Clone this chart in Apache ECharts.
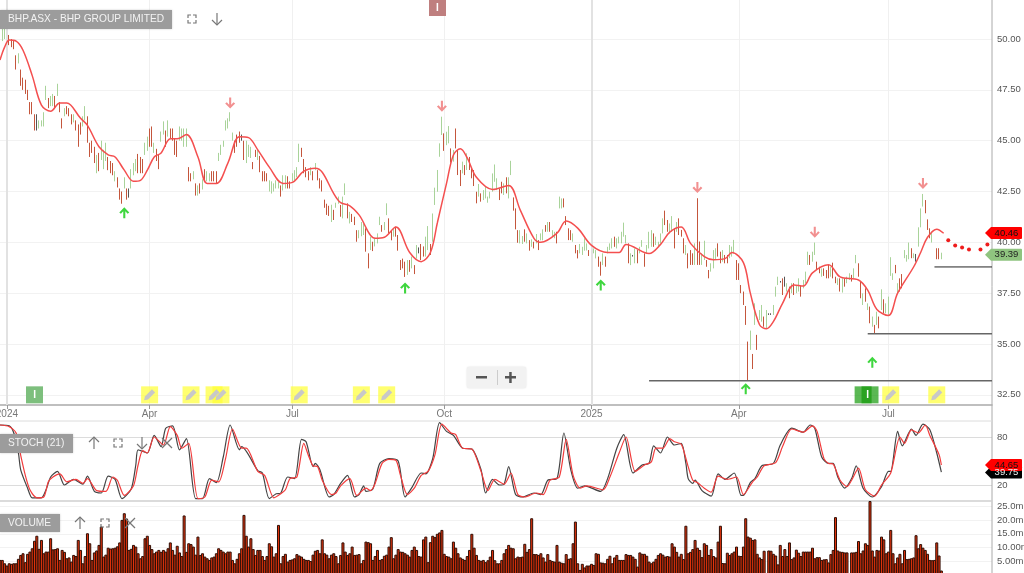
<!DOCTYPE html>
<html>
<head>
<meta charset="utf-8">
<title>BHP.ASX</title>
<style>html,body{margin:0;padding:0;background:#fff}#chart{width:1024px;height:573px}</style>
<script src="https://cdn.jsdelivr.net/npm/echarts@6/dist/echarts.min.js"></script>
</head>
<body>
<div id="chart"></div>
<script>
// 价格K线 (每根: 低/高/方向 1涨 -1跌 0平)
const barLow = [
  49.9,49.9,50.0,49.9,49.7,49.6,49.5,48.5,48.8,47.7,
  47.5,47.3,47.0,46.3,46.3,45.5,45.5,45.6,45.7,45.7,
  47.0,46.6,46.7,46.7,46.6,47.2,46.4,45.6,46.2,46.3,
  46.2,45.8,45.9,45.5,44.7,45.3,45.7,46.0,44.9,44.2,
  44.4,43.9,43.4,43.5,44.05,43.6,44.0,43.55,43.4,43.3,
  43.0,42.7,42.1,41.9,42.65,42.1,42.2,42.65,43.3,43.5,
  43.4,43.4,43.4,44.3,44.5,44.7,44.7,44.4,44.0,43.6,
  44.95,45.3,44.7,45.2,45.1,45.0,44.3,44.2,45.0,45.0,
  44.7,44.7,43.0,43.0,43.1,42.3,42.3,42.4,42.6,43.0,
  43.0,43.0,43.0,43.0,42.9,44.0,44.3,44.7,45.5,45.6,
  45.95,45.0,44.4,44.7,44.9,45.0,44.05,43.9,44.2,44.15,
  43.6,44.2,44.05,43.45,43.0,43.0,43.0,42.5,42.4,42.5,
  42.65,42.65,42.25,42.55,42.65,42.65,42.65,43.0,43.05,43.2,
  43.95,44.2,43.4,43.2,43.05,43.3,43.05,43.55,43.05,42.65,
  42.5,41.7,41.35,41.3,41.0,41.1,41.7,41.9,41.26,41.18,
  42.33,41.18,40.93,41.0,40.85,40.03,40.2,40.3,40.36,39.54,
  38.72,39.62,39.57,39.8,39.95,40.85,40.52,40.6,41.34,40.44,
  40.1,40.28,40.28,39.59,38.64,38.72,38.3,38.4,38.55,38.72,
  38.44,39.2,39.46,39.13,39.3,39.3,39.62,39.38,40.03,41.84,
  42.49,44.21,45.28,44.5,44.78,44.87,43.92,43.97,44.62,43.31,
  42.77,43.39,43.31,43.56,43.56,43.15,42.77,41.92,42.25,42.0,
  42.08,42.16,41.95,42.16,42.49,42.98,42.57,42.08,42.41,42.33,
  42.41,42.16,43.31,41.56,40.64,39.98,39.95,39.92,40.03,39.95,
  39.59,39.78,39.7,39.95,39.62,40.1,40.1,40.52,40.52,40.52,
  40.28,40.2,39.95,41.67,41.67,41.72,40.85,40.11,40.11,40.03,
  39.46,39.21,39.46,39.38,39.59,39.6,39.33,39.46,39.46,39.21,
  38.8,38.36,38.88,38.8,39.46,39.62,39.7,39.78,39.7,39.95,
  39.95,40.28,39.95,38.97,38.88,39.3,38.97,38.97,39.46,39.78,
  38.8,39.46,39.7,39.78,39.78,39.87,39.78,39.95,40.44,40.85,
  40.52,40.44,40.52,39.7,40.52,40.36,40.28,39.46,39.38,38.72,
  38.89,38.89,38.89,38.89,38.89,38.89,39.13,38.8,38.23,38.56,
  38.72,39.13,39.3,38.97,39.05,38.97,38.97,39.22,39.3,39.46,
  38.15,38.15,37.5,36.92,35.94,33.23,34.71,33.77,35.94,34.71,
  36.18,36.1,35.85,35.77,36.43,36.43,36.43,37.33,37.9,38.02,
  37.41,37.82,37.58,37.25,37.5,37.41,37.5,37.58,37.33,37.74,
  37.99,38.89,38.89,39.05,39.38,38.64,38.48,38.31,38.35,38.23,
  38.23,38.31,38.23,37.99,37.9,37.58,37.53,37.82,37.99,38.15,
  38.07,38.23,38.97,38.31,37.25,36.92,37.08,36.67,36.02,35.85,
  35.53,35.94,35.77,36.67,36.51,36.51,36.43,38.35,38.15,38.48,
  37.5,37.58,37.74,39.22,39.05,39.17,39.22,39.22,39.05,39.79,
  40.74,41.76,41.43,40.61,40.2,39.99,null,39.17,39.17,39.17
]
const barHigh = [
  50.5,50.6,50.5,50.3,50.2,50.0,49.9,49.2,49.3,48.5,
  48.1,48.0,47.5,46.9,46.9,46.3,46.3,46.0,46.0,46.4,
  47.7,47.1,47.2,47.3,47.2,47.8,46.9,46.1,46.6,46.7,
  46.6,46.3,46.3,46.0,45.8,45.9,46.2,46.7,46.2,44.9,
  45.0,44.7,44.3,44.4,45.0,44.55,44.9,44.2,44.0,43.9,
  43.5,43.2,42.65,42.5,43.2,42.65,42.65,43.6,43.9,44.1,
  44.35,44.2,44.1,44.9,45.2,45.6,45.7,44.9,44.6,44.3,
  45.45,45.95,45.5,46.0,45.6,45.6,45.1,45.0,45.7,45.6,
  45.6,45.6,43.7,43.4,43.5,42.9,42.8,42.9,43.1,43.6,
  43.5,43.4,43.5,43.5,43.5,44.4,44.8,45.0,46.0,46.1,
  46.4,45.4,45.0,45.3,45.45,45.3,45.0,45.0,44.8,44.7,
  43.95,44.55,44.55,44.25,43.5,43.5,43.4,43.05,43.0,42.9,
  43.05,43.0,42.8,43.3,43.3,43.25,43.0,43.4,43.55,43.7,
  44.85,44.65,44.1,43.7,43.5,43.7,43.5,43.9,43.55,43.15,
  43.05,42.1,41.9,41.8,41.85,41.6,41.95,42.25,41.84,42.25,
  42.9,41.92,41.5,41.4,41.26,40.6,40.6,41.0,40.93,40.69,
  39.46,40.28,40.03,40.2,40.44,41.26,40.85,41.0,41.92,41.18,
  40.6,40.69,40.77,40.36,39.13,39.2,39.05,39.13,39.13,39.3,
  38.88,39.87,39.75,39.92,39.8,40.28,40.8,39.92,41.42,42.69,
  43.56,44.87,46.18,45.36,45.44,45.72,44.62,44.54,45.6,44.54,
  43.56,43.97,43.8,44.38,44.2,43.64,43.56,42.49,42.87,42.41,
  42.57,42.74,42.25,42.49,43.39,43.83,43.15,42.65,42.98,42.9,
  43.2,43.2,44.01,42.21,41.67,40.6,40.6,40.31,40.64,40.44,
  40.11,40.15,40.03,40.41,40.11,40.44,40.64,40.85,41.0,41.0,
  40.6,40.52,40.52,42.25,42.16,42.16,41.29,40.69,40.6,40.44,
  39.87,39.62,39.92,39.78,40.2,39.95,39.62,39.78,39.7,39.62,
  39.3,39.05,39.46,39.3,39.78,39.95,40.2,40.28,40.2,40.28,
  40.52,40.97,40.36,39.95,39.46,39.38,39.7,39.62,39.78,40.11,
  39.46,39.87,40.52,40.6,40.44,40.28,40.03,40.44,41.18,41.56,
  41.1,40.93,41.29,40.69,41.0,41.18,40.61,40.2,39.87,39.46,
  39.62,39.46,39.95,42.17,40.04,39.46,40.08,39.13,38.64,38.97,
  39.62,39.71,39.95,39.54,39.62,39.38,39.38,39.87,39.79,40.12,
  39.13,38.97,37.9,37.58,36.87,35.12,35.66,34.51,37.0,35.45,
  36.67,36.92,36.35,36.67,36.51,36.51,36.92,37.82,38.31,38.1,
  38.23,38.31,37.99,37.82,37.99,37.99,37.9,38.23,37.9,38.15,
  38.56,39.54,39.38,39.54,39.99,39.05,38.8,38.72,38.72,38.64,
  38.89,38.8,39.0,38.31,38.23,38.23,38.23,38.23,38.31,38.48,
  38.4,38.72,39.38,38.97,38.07,37.49,37.74,37.0,36.84,36.35,
  35.94,36.59,36.35,37.69,37.2,37.0,37.33,39.27,38.48,38.89,
  37.99,38.23,38.44,39.62,39.38,39.99,39.71,39.46,39.43,40.74,
  41.67,42.38,42.08,41.13,40.69,40.53,null,39.71,39.71,39.49
]
const barDir = [
  1,1,1,-1,-1,-1,-1,-1,1,-1,
  -1,-1,-1,-1,-1,-1,0,1,1,1,
  1,-1,1,1,-1,1,-1,-1,1,-1,
  -1,-1,1,-1,-1,-1,1,1,-1,-1,
  -1,-1,1,-1,1,1,1,-1,-1,-1,
  1,-1,-1,-1,1,-1,0,1,1,1,
  -1,-1,-1,1,1,-1,-1,1,-1,-1,
  1,1,-1,1,-1,-1,-1,-1,1,1,
  1,1,-1,-1,1,-1,1,-1,1,-1,
  1,1,-1,-1,-1,1,1,1,1,1,
  1,1,-1,-1,-1,0,-1,1,1,1,
  -1,-1,1,-1,-1,-1,-1,1,1,1,
  1,1,-1,1,1,-1,-1,1,1,1,
  1,-1,-1,-1,-1,1,-1,1,-1,-1,
  -1,-1,-1,-1,1,-1,1,1,-1,1,
  1,-1,1,-1,-1,-1,1,1,1,-1,
  -1,1,-1,1,1,1,-1,1,1,-1,
  -1,1,-1,-1,-1,-1,-1,1,-1,1,
  -1,1,0,-1,-1,1,1,-1,1,1,
  1,1,1,-1,1,1,-1,1,-1,-1,
  -1,1,-1,1,-1,-1,-1,-1,1,-1,
  1,1,1,1,1,1,1,-1,-1,1,
  -1,1,1,-1,-1,-1,1,1,-1,1,
  -1,1,-1,1,-1,1,1,-1,1,-1,
  1,1,-1,1,1,-1,-1,-1,-1,1,
  -1,-1,1,1,1,1,-1,1,1,1,
  -1,-1,1,-1,1,1,1,-1,1,1,
  1,1,1,-1,1,0,1,-1,1,1,
  -1,1,1,1,-1,1,1,1,1,-1,
  -1,1,1,-1,1,-1,-1,-1,1,-1,
  -1,-1,1,-1,-1,1,1,-1,-1,1,
  1,1,-1,-1,1,-1,-1,1,1,1,
  -1,-1,-1,-1,-1,-1,1,-1,1,-1,
  1,1,-1,1,0,0,1,1,1,0,
  -1,0,1,-1,1,-1,1,1,-1,1,
  1,1,-1,1,1,-1,-1,1,-1,-1,
  -1,1,-1,-1,1,-1,1,-1,1,1,
  -1,1,1,-1,-1,1,-1,1,-1,1,
  -1,1,-1,1,-1,1,1,1,1,-1,
  1,-1,-1,1,1,1,-1,1,0,1,
  1,1,-1,-1,-1,1,0,-1,-1,1
]

// 20日均线 [序号, 价格]
const maLine = [
  [0,48.97],[2,49.6],[4,49.95],[7,49.9],[10,49.45],[14,48.2],[18,46.75],[22,46.45],[26,46.85],[29,46.85],
  [35,46.1],[38,45.75],[43,44.7],[47,44.3],[50,44.2],[54,43.55],[58,43.0],[61,43.05],[64,43.55],[67,44.2],
  [70,44.4],[74,45.1],[77,45.1],[81,45.3],[86,44.2],[90,42.9],[94,42.9],[99,43.9],[104,45.2],[108,45.15],
  [112,44.55],[117,43.7],[123,42.9],[127,42.95],[132,43.5],[137,43.65],[140,43.45],[145,42.4],[148,41.95],
  [152,41.8],[156,41.35],[163,40.2],[167,40.25],[172,40.75],[178,39.5],[183,39.05],[187,39.5],[190,40.95],
  [194,42.9],[197,44.3],[200,44.6],[203,44.15],[207,43.2],[214,42.6],[221,42.8],[226,41.6],[232,40.2],
  [235,40.0],[242,40.45],[246,41.05],[251,40.7],[257,39.85],[264,39.5],[269,39.5],[272,39.9],[280,39.5],
  [282,39.45],[287,39.9],[291,40.5],[296,40.75],[300,39.95],[306,39.3],[310,39.15],[315,39.2],[318,39.5],
  [323,39.0],[326,37.5],[330,35.95],[333,35.75],[336,36.1],[340,37.0],[345,37.9],[349,37.85],[353,38.5],
  [360,38.9],[365,38.3],[373,38.15],[377,37.65],[381,36.7],[386,36.4],[390,37.5],[397,38.8],[400,39.5],
  [403,40.25],[407,40.65],[410,40.45]
]
// 均线预测点
const forecastDots = [[412,40.1],[415,39.85],[418,39.75],[421,39.65],[426,39.65],[429,39.9]]

// 支撑线 [起点序号, 价格]
const supportLevels = [[406,38.79],[377,35.5],[282,33.19]]

// 信号箭头
const buyArrows = [[53.5,41.45],[176,37.76],[261,37.9],[324,32.8],[379,34.1]]
const sellArrows = [[100,46.85],[192,46.7],[303,42.7],[353.5,40.5],[401,42.9]]

// 备注旗标
const noteFlags = [65,83,93,96,130,157,168,387,407]
const infoFlags = [15]
const infoFlagsDark = [375,378]

// 随机指标 K
const stochK = [
  [0,95],[4,94],[6,85],[8,60],[9,39],[12,16],[14,4],[18,4],[20,14],[22,30],[25,37],[28,20],[32,27],[36,21],[38,31],
  [41,12],[44,10],[47,31],[50,27],[53,3],[57,15],[59,45],[60,64],[64,60],[67,82],[70,68],[72,91],[75,94],[78,64],
  [81,78],[84.5,3],[88,3],[91,28],[94,23],[97,55],[100,95],[104,64],[105,68],[112,38],[114,35],[117,3],[120,9],
  [122,10],[125,30],[128,28],[131,77],[133,74],[135.5,43],[137,47],[139,39],[143,5],[145,8],[148,22],
  [151,32],[154,5],[156,8],[158,19],[159,12],[162,15],[165,47],[169,53],[173,50],[176,5],[179,17],[183,35],[185,34],
  [188,53],[191,98],[194,87],[197,82],[201,66],[205,65],[209,39],[211,10],[214,27],[217,20],[219,21],[221,43],
  [224,8],[227,5],[232,10],[235,8],[238,26],[242,28],[245,85],[248,39],[251,16],[254,19],[261,12],[264,28],[268,66],
  [271,83],[275,35],[279,45],[282,47],[284,69],[287,60],[290,80],[293,70],[296,72],[298,47],[299,28],[301,22],[302,26],
  [305,13],[309,6],[312,34],[315,27],[319,35],[322,7],[323,7],[326,23],[328,28],[331,44],[336,47],[339,70],[344,91],
  [349,86],[352,95],[354,91],[357,55],[360,47],[362,47],[364,30],[367,16],[370,28],[372,44],[375,16],[379,5],[383,18],
  [386,37],[387,37],[390,87],[392,69],[396,90],[398,82],[401,96],[404,89],[407,60],[409,36]
]
// 随机指标 D
const stochD = [
  [0,95],[4,93],[6.5,85],[9,57],[11,32],[13,14],[16,4],[19,5],[21,24],[23,30],[26,34],[29,24],[33,27],[36,22],[38,28],
  [42,13],[46,12],[49,30],[51,26],[54,7],[58,19],[60,45],[62,63],[64,60],[67,80],[71,70],[74,93],[77,82],[79,66],
  [82,72],[86,3],[89,5],[92,26],[95,24],[98,53],[101,90],[105,66],[106.5,66],[112,37],[115,32],[118.5,4],[122,9],
  [124,14],[126,28],[129,30],[132,72],[134,57],[136,44],[138,43],[140,26],[144,8],[146,10],[148,19],
  [152,28],[155,7],[159,16],[161,13],[163,22],[166,47],[169,52],[172,51],[174,32],[177,8],[180,16],[183,32],[186,37],
  [189,58],[192,96],[196,85],[198,83],[201,66],[205,65],[209,37],[212,13],[215,27],[219,21],[222,35],[225,8],[228,5],
  [233,10],[235.5,8],[239,26],[243,30],[246,77],[249,32],[251.5,16],[255,19],[262,14],[265,30],[269,60],[272,80],
  [276,37],[280,45],[283,49],[285,66],[288,66],[290.5,78],[293,74],[296,71],[299,43],[301,26],[303,23],[306,16],
  [309,11],[312,31],[316,27],[320,30],[323,8],[327,24],[329,30],[332,44],[337,48],[340,68],[344,90],[349,86],[353,94],
  [355,87],[358,53],[360,47],[362,46],[365,26],[368,18],[370,26],[373,41],[376,14],[380,6],[383,20],[387,35],[391,80],
  [393,72],[396,89],[399,85],[402,95],[404,82],[408,58],[409,45]
]

// 成交量 (百万)
const volume = [
  5.6,5.6,4.4,3.6,4.4,4.2,4.4,4.4,6.0,7.4,
  8.0,4.8,7.8,8.6,9.8,12.5,14.3,9.6,12.8,8.0,
  8.6,8.6,13.4,9.4,9.5,9.8,5.6,9.2,8.5,6.2,
  6.5,5.0,7.4,7.0,12.8,9.2,4.4,7.0,15.2,11.6,
  5.6,8.3,9.0,11.0,17.6,6.8,7.5,10.0,9.7,9.8,
  10.0,10.5,11.9,20.0,22.4,20.5,9.2,9.6,11.0,10.4,
  8.0,6.2,7.0,13.4,14.3,11.0,9.5,8.0,8.6,9.2,
  8.5,9.2,8.6,9.8,11.9,9.2,7.5,10.7,8.3,7.0,
  21.6,8.5,11.6,11.3,10.4,7.5,14.0,7.4,8.0,6.8,
  6.2,5.6,6.5,6.8,8.0,9.8,9.2,8.6,8.0,8.6,
  8.6,5.6,4.4,6.0,8.0,9.8,21.8,14.3,10.4,13.4,
  9.5,7.4,9.2,9.2,7.0,5.6,7.0,11.6,10.5,6.8,
  8.0,18.2,4.4,7.0,7.8,5.0,5.6,5.8,6.2,7.7,
  7.2,6.8,6.0,5.6,5.6,5.2,7.5,8.9,9.2,8.0,
  13.0,8.0,7.5,6.2,7.5,8.0,7.0,4.4,7.4,11.9,
  8.6,7.4,8.0,10.4,7.4,7.5,7.7,4.4,5.6,12.2,
  12.0,11.6,5.6,7.0,9.2,5.6,5.9,7.1,7.5,10.4,
  13.8,6.2,7.5,9.5,8.6,8.5,8.0,7.5,6.8,9.2,
  10.4,9.2,7.0,6.8,13.0,14.0,4.8,12.0,14.3,13.8,
  15.0,15.5,16.4,7.8,7.0,6.8,6.2,12.2,10.0,8.0,
  6.5,6.0,5.6,7.0,9.2,15.0,10.0,7.4,5.6,5.3,
  5.6,4.8,5.5,6.8,9.2,5.5,4.4,4.4,5.6,8.0,
  9.5,11.0,10.0,9.8,6.2,6.8,6.6,6.8,11.4,8.5,
  9.5,20.6,7.7,7.7,7.4,8.0,6.5,5.0,7.7,5.6,
  5.2,5.0,11.0,5.0,4.6,4.4,7.7,6.0,6.2,11.6,
  19.4,4.4,2.0,4.2,2.9,3.6,3.6,4.2,3.8,8.0,
  7.8,4.7,4.6,4.4,6.0,7.1,4.4,6.5,7.4,5.6,
  5.6,5.6,7.7,7.4,7.4,6.8,6.0,3.2,8.3,7.8,
  7.8,7.1,5.0,4.4,5.0,6.0,7.4,8.0,7.5,6.8,
  7.0,6.8,11.6,10.4,8.5,6.8,7.8,5.9,17.9,8.0,
  8.5,9.5,12.8,10.0,9.2,6.6,11.6,11.0,7.4,9.5,
  7.0,6.5,12.2,17.9,4.5,4.4,8.2,7.4,8.0,8.6,
  10.4,7.1,7.0,10.4,20.6,14.0,13.6,12.8,13.0,7.8,
  6.5,5.9,8.9,0,9.0,8.9,7.8,7.2,4.0,11.0,
  7.0,9.5,7.0,11.9,5.9,6.5,9.3,8.2,7.0,8.6,
  8.6,8.6,8.6,10.0,6.2,6.6,6.6,5.6,5.8,5.9,
  4.7,7.7,9.2,21.0,9.0,8.6,8.5,8.3,8.3,0,
  8.3,8.3,8.5,12.4,8.0,9.0,11.6,11.0,26.8,9.0,
  6.8,9.2,9.0,14.0,13.0,8.0,8.6,16.4,8.0,4.4,
  6.5,7.8,4.4,9.2,5.9,6.0,6.2,6.5,14.5,9.8,
  11.3,10.0,9.2,7.8,5.6,5.5,5.6,11.9,7.2,1.8
]

// 坐标轴刻度
const slotCount = 432
const dateTicks = [3,65,127,193,257,321,386]
const dateLabels = ['2024','Apr','Jul','Oct','2025','Apr','Jul']
const yearLines = [3,257]
const priceTicks = [32.5,35,37.5,40,42.5,45,47.5,50]
const stochTicks = [20,80]
const volumeTicks = [5,10,15,20,25]
const volumeLabels = ['5.00m','10.00m','15.0m','20.0m','25.0m']

const lastPrice = 40.46
const maLast = 39.39
const stochLastD = 44.65
const stochLastK = 39.75

const RED = '#c4563c'
const GREEN = '#a9d39a'
const DARK = '#555555'
const FONT = '"Liberation Sans", Arial, sans-serif'

const UP_ARROW = 'path://M12 0 L24 12 L20 15 L14.5 9 L14.5 26 L9.5 26 L9.5 9 L4 15 L0 12 Z'
const DOWN_ARROW = 'path://M12 26 L24 14 L20 11 L14.5 17 L14.5 0 L9.5 0 L9.5 17 L4 11 L0 14 Z'
const PENCIL = 'path://M1 15 L2 10 L11 1 L15 5 L6 14 Z'
const TAG = 'path://M0 6 L6 0 L36 0 Q37 0 37 1 L37 11 Q37 12 36 12 L6 12 Z'

const categories = Array.from({ length: slotCount }, (_, i) => String(i))
const isDateTick = (i) => dateTicks.includes(Number(i))

const candleData = barLow.map((low, i) => {
  if (low === null) return { value: ['-', '-', '-', '-'] }
  const color = barDir[i] > 0 ? GREEN : barDir[i] < 0 ? RED : DARK
  const value = barDir[i] > 0 ? [low, barHigh[i], low, barHigh[i]] : [barHigh[i], low, low, barHigh[i]]
  return { value, itemStyle: { color, color0: color, borderColor: color, borderColor0: color, borderWidth: 1 } }
})

// 右侧价格标签
const priceTag = (xAxisIndex, yAxisIndex, y, text, fill, textColor) => ({
  type: 'scatter',
  xAxisIndex,
  yAxisIndex,
  clip: false,
  silent: true,
  z: 20,
  symbol: TAG,
  symbolSize: [37, 12],
  symbolOffset: [11.5, 0],
  itemStyle: { color: fill, opacity: 1 },
  label: {
    show: true,
    position: 'inside',
    offset: [3, 0],
    formatter: text,
    color: textColor,
    fontSize: 9.5,
    fontFamily: FONT
  },
  data: [[slotCount - 1, y]]
})

const flagSeries = (xs, symbol, size, color, opacity, text) => ({
  type: 'scatter',
  xAxisIndex: 0,
  yAxisIndex: 0,
  silent: true,
  symbol,
  symbolSize: size,
  itemStyle: { color, opacity },
  label: text ? { show: true, formatter: text, position: 'inside', color: '#fff', fontSize: 10, fontWeight: 'bold', fontFamily: FONT } : { show: false },
  data: xs.map((x) => [x, 32.5])
})

const arrowSeries = (data, symbol, color) => ({
  type: 'scatter',
  xAxisIndex: 0,
  yAxisIndex: 0,
  silent: true,
  symbol,
  symbolSize: [10, 11],
  itemStyle: { color, opacity: 1 },
  data
})

// 工具栏小图标
const ICON = { stroke: '#777', lineWidth: 1.2, fill: null }
const poly = (points) => ({ type: 'polyline', shape: { points }, style: ICON, silent: true, z: 30 })
const iconFull = (x, y) => [
  poly([[x - 4, y - 1], [x - 4, y - 4], [x - 1, y - 4]]),
  poly([[x + 1, y - 4], [x + 4, y - 4], [x + 4, y - 1]]),
  poly([[x + 4, y + 1], [x + 4, y + 4], [x + 1, y + 4]]),
  poly([[x - 1, y + 4], [x - 4, y + 4], [x - 4, y + 1]])
]
const iconArrow = (x, y, dir) => [
  poly([[x, y - 6 * dir], [x, y + 6 * dir]]),
  poly([[x - 5, y + 1 * dir], [x, y + 6 * dir], [x + 5, y + 1 * dir]])
]
const iconClose = (x, y) => [
  poly([[x - 5, y - 5], [x + 5, y + 5]]),
  poly([[x - 5, y + 5], [x + 5, y - 5]])
]
const label = (x, y, w, h, text) => [
  { type: 'rect', z: 25, silent: true, shape: { x, y, width: w, height: h }, style: { fill: '#9c9c9c', shadowBlur: 2, shadowColor: 'rgba(0,0,0,0.2)' } },
  { type: 'text', z: 26, silent: true, x: x + 8, y: y + h / 2, style: { text, fill: '#f2f2f2', font: '10.2px ' + FONT, verticalAlign: 'middle' } }
]
const rule = (x1, y1, x2, y2, stroke, lineWidth) => ({
  type: 'line',
  silent: true,
  z: 1,
  shape: { x1, y1, x2, y2 },
  style: { stroke, lineWidth }
})

const priceAxisLabel = { color: '#555', fontSize: 9.5, fontFamily: FONT, margin: 5 }

const chart = echarts.init(document.getElementById('chart'), null, { renderer: 'canvas' })
chart.setOption({
  animation: false,
  backgroundColor: '#fff',
  grid: [
    { left: 0, width: 992, top: 0, height: 405, outerBoundsMode: 'none' },
    { left: 0, width: 992, top: 421, height: 80, outerBoundsMode: 'none' },
    { left: 0, width: 992, top: 501, height: 74.5, outerBoundsMode: 'none' }
  ],
  xAxis: [
    {
      type: 'category',
      gridIndex: 0,
      data: categories,
      boundaryGap: false,
      containShape: false,
      axisLine: { lineStyle: { color: '#aaa', width: 1.5 } },
      axisTick: { length: 4, interval: (i) => isDateTick(i), lineStyle: { color: '#999' } },
      axisLabel: {
        interval: (i) => isDateTick(i),
        formatter: (v) => dateLabels[dateTicks.indexOf(Number(v))] || '',
        color: '#777',
        fontSize: 10,
        fontFamily: FONT,
        margin: 4,
        hideOverlap: false
      },
      splitLine: { show: true, interval: (i) => isDateTick(i), lineStyle: { color: '#f0f0f0' } }
    },
    { type: 'category', gridIndex: 1, data: categories, boundaryGap: false, containShape: false, show: false },
    { type: 'category', gridIndex: 2, data: categories, boundaryGap: false, containShape: false, show: false }
  ],
  yAxis: [
    {
      type: 'value',
      gridIndex: 0,
      position: 'right',
      min: 32,
      max: 51.92,
      axisLine: { show: false },
      axisTick: { show: false, customValues: priceTicks },
      axisLabel: { ...priceAxisLabel, customValues: priceTicks, formatter: (v) => v.toFixed(2) },
      splitLine: { show: true, lineStyle: { color: '#f2f2f2' } }
    },
    {
      type: 'value',
      gridIndex: 1,
      position: 'right',
      min: 0,
      max: 100,
      axisLine: { show: false },
      axisTick: { show: false, customValues: stochTicks },
      axisLabel: { ...priceAxisLabel, customValues: stochTicks },
      splitLine: { show: true, lineStyle: { color: '#dcdcdc' } }
    },
    {
      type: 'value',
      gridIndex: 2,
      position: 'right',
      min: 0,
      max: 26.8,
      axisLine: { show: false },
      axisTick: { show: false, customValues: volumeTicks },
      axisLabel: {
        ...priceAxisLabel,
        customValues: volumeTicks,
        formatter: (v) => volumeLabels[volumeTicks.indexOf(v)]
      },
      splitLine: { show: true, lineStyle: { color: '#f2f2f2' } }
    }
  ],
  series: [
    {
      type: 'line',
      xAxisIndex: 0,
      yAxisIndex: 0,
      silent: true,
      symbol: 'none',
      data: [],
      markLine: {
        silent: true,
        symbol: 'none',
        label: { show: false },
        lineStyle: { color: '#e2e2e2', width: 2, type: 'solid' },
        data: yearLines.map((x) => ({ xAxis: x }))
      }
    },
    ...supportLevels.map(([x, price], i) => ({
      type: 'line',
      xAxisIndex: 0,
      yAxisIndex: 0,
      silent: true,
      symbol: 'none',
      lineStyle: { color: i === 0 ? '#222' : '#666', width: i === 0 ? 1 : 1.5 },
      data: [[x, price], [slotCount - 1, price]]
    })),
    {
      type: 'candlestick',
      xAxisIndex: 0,
      yAxisIndex: 0,
      silent: true,
      barWidth: 1,
      data: candleData
    },
    {
      type: 'line',
      xAxisIndex: 0,
      yAxisIndex: 0,
      silent: true,
      smooth: 0.35,
      symbol: 'none',
      lineStyle: { color: '#f44f4f', width: 1.5 },
      z: 5,
      data: maLine
    },
    {
      type: 'scatter',
      xAxisIndex: 0,
      yAxisIndex: 0,
      silent: true,
      symbolSize: 4,
      itemStyle: { color: '#ee1c1c', opacity: 1 },
      data: forecastDots
    },
    arrowSeries(buyArrows, UP_ARROW, '#3ed63e'),
    arrowSeries(sellArrows, DOWN_ARROW, '#f29090'),
    flagSeries(noteFlags, 'rect', 17, '#ffff33', 0.7),
    flagSeries(noteFlags, PENCIL, 11, '#c8c8c8', 1),
    flagSeries(infoFlags, 'rect', 17, '#7dbf7d', 1, 'I'),
    flagSeries(infoFlagsDark, 'rect', 17, '#169a0c', 0.7),
    flagSeries([376.5], 'rect', 1, '#169a0c', 1, 'I'),
    priceTag(0, 0, maLast, String(maLast), '#8fc47f', '#222'),
    priceTag(0, 0, lastPrice, String(lastPrice), '#ff0000', '#111'),
    {
      type: 'line',
      xAxisIndex: 1,
      yAxisIndex: 1,
      silent: true,
      smooth: 0.25,
      symbol: 'none',
      lineStyle: { color: '#444', width: 1.2 },
      data: stochK
    },
    {
      type: 'line',
      xAxisIndex: 1,
      yAxisIndex: 1,
      silent: true,
      smooth: 0.25,
      symbol: 'none',
      lineStyle: { color: '#f23c3c', width: 1.2 },
      data: stochD
    },
    priceTag(1, 1, 35.5, String(stochLastK), '#000', '#eee'),
    priceTag(1, 1, 45, String(stochLastD), '#ff0000', '#111'),
    {
      type: 'bar',
      xAxisIndex: 2,
      yAxisIndex: 2,
      silent: true,
      barWidth: 3,
      itemStyle: { color: '#e2330d', borderColor: '#2e0e05', borderWidth: 1 },
      data: volume
    }
  ],
  graphic: [
    rule(992, 0, 992, 573, '#aaa', 1),
    rule(0, 421, 992, 421, '#dcdcdc', 1),
    rule(0, 501, 992, 501, '#cfcfcf', 1.5),
    ...label(0, 10, 172, 19, 'BHP.ASX - BHP GROUP LIMITED'),
    ...iconFull(192, 19),
    ...iconArrow(217, 19, 1),
    ...label(0, 434, 73, 19, 'STOCH (21)'),
    ...iconArrow(94, 443, -1),
    ...iconFull(118, 443),
    ...iconArrow(142, 443, 1),
    ...iconClose(167, 443),
    ...label(0, 514, 60, 18, 'VOLUME'),
    ...iconArrow(80, 523, -1),
    ...iconFull(105, 523),
    ...iconClose(130, 523),
    // 顶部信息标记
    { type: 'rect', z: 25, silent: true, shape: { x: 429, y: 0, width: 17, height: 16 }, style: { fill: '#bf7f7f' } },
    { type: 'text', z: 26, silent: true, x: 437.5, y: 8, style: { text: 'I', fill: '#fff', font: 'bold 10px ' + FONT, align: 'center', verticalAlign: 'middle' } },
    // 缩放按钮
    { type: 'rect', z: 25, silent: true, shape: { x: 467, y: 367, width: 59, height: 21, r: 2 }, style: { fill: '#f2f2f2', shadowBlur: 2, shadowColor: 'rgba(0,0,0,0.15)' } },
    { type: 'line', z: 26, silent: true, shape: { x1: 497.5, y1: 370, x2: 497.5, y2: 385 }, style: { stroke: '#ccc', lineWidth: 1 } },
    { type: 'rect', z: 26, silent: true, shape: { x: 476, y: 376, width: 11, height: 2.5 }, style: { fill: '#555' } },
    { type: 'rect', z: 26, silent: true, shape: { x: 505, y: 376, width: 11, height: 2.5 }, style: { fill: '#555' } },
    { type: 'rect', z: 26, silent: true, shape: { x: 509.2, y: 372, width: 2.5, height: 11 }, style: { fill: '#555' } }
  ]
})
</script>
</body>
</html>
